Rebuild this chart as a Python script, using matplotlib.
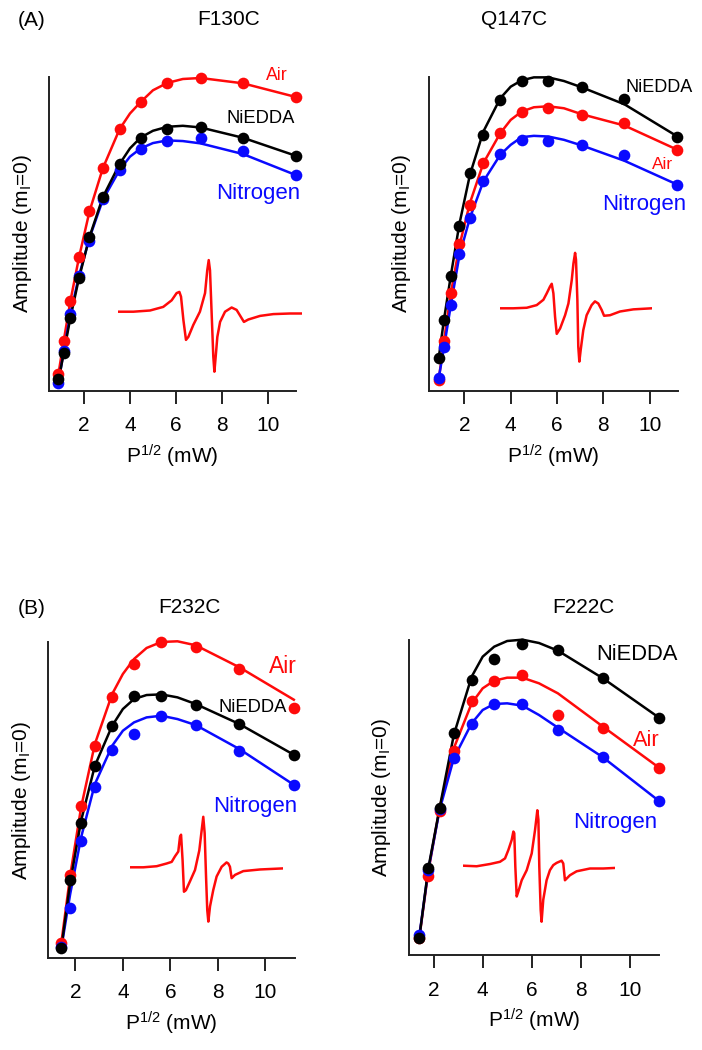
import matplotlib
matplotlib.use("Agg")
import matplotlib.pyplot as plt

plt.rcParams['font.family'] = 'Liberation Sans'
plt.rcParams['mathtext.fontset'] = 'custom'
plt.rcParams['mathtext.rm'] = 'Liberation Sans'
plt.rcParams['mathtext.it'] = 'Liberation Sans:italic'

W, H = 702, 1050
RED = '#ff0a0a'
BLUE = '#0a0aff'
BLACK = '#000000'

# sqrt(P) of the measured powers (4 dB steps)
x_a = [0.89, 1.12, 1.41, 1.78, 2.24, 2.82, 3.55, 4.47, 5.62, 7.07, 8.91, 11.2]
x_b = [1.41, 1.78, 2.24, 2.82, 3.55, 4.47, 5.62, 7.07, 8.91, 11.2]
# positions where the fitted curves were read
fit_x_a = [0.89, 1.12, 1.41, 1.78, 2.24, 2.82, 3.55, 4.0, 4.47, 5.0, 5.62, 6.3, 7.07, 8.91, 11.2]
fit_x_b = [1.41, 1.78, 2.24, 2.82, 3.55, 4.0, 4.47, 5.0, 5.62, 6.3, 7.07, 8.91, 11.2]

# F130C
f130c_air = [5.0, 15.0, 27.0, 40.2, 54.0, 67.0, 78.8, 87.0, 92.7, 94.2, 92.8, 88.5]
f130c_nie = [3.5, 11.3, 22.0, 33.8, 46.3, 58.3, 68.3, 76.2, 78.8, 79.3, 76.2, 70.8]
f130c_n2 = [2.3, 12.0, 23.2, 34.5, 45.0, 57.8, 66.5, 72.8, 75.3, 76.0, 72.3, 65.0]
f130c_air_fit = [5.0, 15.0, 27.0, 40.0, 54.0, 67.0, 78.8, 83.5, 87.0, 90.5, 92.7, 93.9, 94.2, 92.6, 88.5]
f130c_nie_fit = [3.0, 11.3, 22.0, 33.8, 46.3, 58.3, 68.3, 73.0, 76.3, 78.3, 79.5, 79.8, 79.3, 76.2, 70.8]
f130c_n2_fit = [2.3, 12.0, 23.0, 34.5, 46.0, 57.5, 66.5, 70.5, 73.0, 74.6, 75.4, 75.2, 74.5, 71.3, 65.0]

# Q147C
q147c_air = [3.2, 15.0, 29.4, 44.2, 56.0, 68.4, 77.7, 84.0, 85.2, 83.0, 80.7, 72.5]
q147c_nie = [9.7, 21.4, 34.4, 49.7, 65.5, 76.9, 87.5, 93.2, 93.2, 91.5, 87.7, 76.5]
q147c_n2 = [3.7, 13.2, 25.7, 41.0, 52.0, 63.2, 71.2, 75.4, 75.0, 74.0, 71.0, 62.0]
q147c_air_fit = [3.2, 15.0, 29.0, 43.5, 56.5, 68.5, 77.5, 81.5, 84.0, 85.3, 85.6, 85.0, 83.2, 79.8, 72.5]
q147c_nie_fit = [9.7, 21.4, 34.4, 50.0, 65.0, 78.0, 88.0, 91.5, 93.4, 94.3, 94.3, 93.2, 91.3, 86.2, 76.5]
q147c_n2_fit = [3.7, 13.0, 25.5, 40.5, 52.0, 63.0, 71.0, 74.0, 76.3, 76.7, 76.5, 75.5, 73.8, 69.2, 62.0]

# F232C
f232c_air = [4.5, 24.8, 45.5, 63.3, 78.1, 88.1, 94.6, 93.1, 86.6, 74.8]
f232c_nie = [3.0, 23.3, 40.3, 57.3, 69.3, 78.5, 78.5, 75.6, 70.1, 60.8]
f232c_n2 = [3.3, 14.8, 35.1, 51.1, 62.1, 67.1, 72.3, 69.8, 62.0, 51.8]
f232c_air_fit = [4.5, 24.5, 45.0, 64.0, 79.0, 85.0, 89.5, 92.8, 94.6, 94.8, 93.6, 87.0, 77.3]
f232c_nie_fit = [3.0, 22.5, 41.0, 57.5, 69.5, 74.5, 77.5, 78.7, 78.9, 78.0, 76.0, 70.0, 60.8]
f232c_n2_fit = [3.0, 19.0, 36.0, 52.0, 63.5, 68.0, 70.5, 72.0, 72.5, 71.5, 69.7, 62.5, 51.8]

# F222C
f222c_air = [5.0, 23.7, 43.3, 61.2, 76.2, 82.2, 84.0, 72.0, 68.0, 56.2]
f222c_nie = [5.0, 26.0, 44.0, 66.5, 82.5, 88.7, 93.2, 91.5, 83.0, 71.2]
f222c_n2 = [6.0, 25.5, 43.8, 59.0, 69.3, 75.3, 75.3, 67.5, 59.5, 46.2]
f222c_air_fit = [5.0, 25.0, 44.0, 62.0, 75.5, 80.0, 82.3, 83.2, 83.2, 81.5, 78.5, 68.5, 56.2]
f222c_nie_fit = [5.0, 26.0, 44.0, 66.0, 83.5, 89.5, 92.5, 94.2, 94.6, 93.6, 91.3, 83.0, 71.2]
f222c_n2_fit = [5.5, 25.5, 43.5, 59.0, 69.5, 73.5, 75.3, 75.5, 74.8, 72.0, 68.2, 59.3, 46.2]

# inset EPR spectra (field in % of sweep, signal normalised)
spec_f130c_field = [0, 8.2, 17.3, 24.5, 29.1, 31.8, 33.3, 34.2, 35.5, 36.9, 38.2, 40.9, 44.5, 47.3, 48.5, 49.3,
                    50, 50.9, 51.8, 52.4, 53.1, 54, 55.5, 58.2, 61.8, 64.5, 67.3, 68.5, 70.9, 77.3, 84.5, 93.6, 100]
spec_f130c_signal = [0, 0, 0.02, 0.08, 0.19, 0.31, 0.33, 0.25, -0.14, -0.47, -0.42, -0.22, 0, 0.31, 0.69, 0.86,
                     0.69, -0.03, -0.75, -1.0, -0.75, -0.42, -0.17, 0, 0.07, 0.03, -0.11, -0.17, -0.13, -0.07,
                     -0.04, -0.03, -0.03]
spec_q147c_field = [0, 8.8, 17.6, 24.2, 28.6, 30.8, 33.0, 34.1, 35.2, 36.3, 37.4, 39.6, 42.9, 45.1, 47.3, 48.4,
                    49.5, 50.1, 51.0, 51.6, 52.3, 53.2, 54.9, 57.1, 60.4, 62.6, 64.8, 67.0, 68.6, 72.5, 79.1,
                    87.9, 100]
spec_q147c_signal = [0, 0, 0.01, 0.06, 0.16, 0.28, 0.41, 0.46, 0.28, -0.16, -0.48, -0.38, -0.13, 0.09, 0.53,
                     0.84, 1.04, 0.91, 0.16, -0.72, -1.0, -0.78, -0.41, -0.13, 0.06, 0.13, 0.09, -0.03, -0.14,
                     -0.13, -0.06, -0.02, 0]
spec_f232c_field = [0, 8.7, 17.4, 23.9, 27.2, 29.3, 31.5, 32.6, 33.3, 34.3, 35.2, 36.5, 39.1, 42.4, 45.2, 46.7,
                    47.8, 48.7, 49.6, 50.4, 51.1, 52.2, 54.3, 56.5, 59.8, 63.0, 64.1, 65.2, 66.3, 68.5, 73.9,
                    84.8, 100]
spec_f232c_signal = [0, 0, 0.02, 0.07, 0.10, 0.20, 0.29, 0.56, 0.60, 0.13, -0.45, -0.42, -0.26, -0.05, 0.31,
                     0.67, 0.93, 0.63, -0.17, -0.79, -1.0, -0.72, -0.42, -0.17, 0.01, 0.09, 0.07, 0.01, -0.20,
                     -0.14, -0.07, -0.04, -0.02]
spec_f222c_field = [0, 8.8, 17.6, 24.2, 27.5, 29.7, 31.9, 33.0, 33.6, 34.3, 35.2, 36.3, 38.5, 41.8, 45.1, 47.3,
                    48.8, 49.5, 50.1, 51.0, 51.6, 52.7, 54.9, 57.1, 59.3, 61.5, 64.8, 65.9, 67.0, 68.1, 70.3,
                    74.7, 83.5, 92.3, 100]
spec_f222c_signal = [0, -0.01, 0.03, 0.07, 0.13, 0.28, 0.46, 0.61, 0.58, -0.02, -0.55, -0.46, -0.26, -0.08,
                     0.22, 0.64, 0.99, 0.82, -0.02, -0.79, -1.0, -0.61, -0.26, -0.08, 0.01, 0.05, 0.09, 0.04,
                     -0.26, -0.23, -0.17, -0.10, -0.05, -0.05, -0.04]

fig = plt.figure(figsize=(W / 100, H / 100), dpi=100)


def px_rect(left, top, right, bottom):
    return [left / W, 1 - bottom / H, (right - left) / W, (bottom - top) / H]


def ftext(x, y, s, **kw):
    fig.text(x / W, 1 - y / H, s, ha='center', va='baseline', **kw)


def panel(rect, xlim, x, fit_x, series):
    ax = fig.add_axes(px_rect(*rect))
    for pts, fit, col in series:
        ax.plot(fit_x, fit, color=col, lw=1.8, clip_on=False, zorder=2)
        ax.plot(x, pts, 'o', color=col, ms=8.4, mec='none', clip_on=False, zorder=3)
    ax.set_xlim(*xlim)
    ax.set_ylim(0, 94.5)
    ax.set_xticks([2, 4, 6, 8, 10])
    ax.set_yticks([])
    for s in ['top', 'right']:
        ax.spines[s].set_visible(False)
    for s in ['left', 'bottom']:
        ax.spines[s].set_linewidth(1.4)
        ax.spines[s].set_color('#222222')
    ax.tick_params(axis='x', length=9, width=1.4, color='#222222', pad=9.5, labelsize=15)
    ax.set_xlabel(r'P$^{\mathrm{1/2}}$ (mW)', fontsize=15, labelpad=5)
    ax.set_ylabel(r'Amplitude (m$_{\mathrm{I}}$=0)', fontsize=15, labelpad=11)
    return ax


def spectrum(field, signal, x0, x1, base, scale):
    top, bot = base - 80, base + 80
    ax = fig.add_axes(px_rect(x0, top, x1, bot))
    ax.plot(field, signal, color=RED, lw=1.8)
    ax.set_xlim(0, 100)
    ax.set_ylim(-(bot - base) / scale, (base - top) / scale)
    ax.axis('off')


panel((49, 77, 296, 390.7), (0.48, 11.22), x_a, fit_x_a,
      [(f130c_air, f130c_air_fit, RED), (f130c_n2, f130c_n2_fit, BLUE), (f130c_nie, f130c_nie_fit, BLACK)])
panel((428.7, 76.7, 677.7, 390.7), (0.46, 11.21), x_a, fit_x_a,
      [(q147c_air, q147c_air_fit, RED), (q147c_n2, q147c_n2_fit, BLUE), (q147c_nie, q147c_nie_fit, BLACK)])
panel((48.3, 642.3, 295, 957.7), (0.86, 11.25), x_b, fit_x_b,
      [(f232c_air, f232c_air_fit, RED), (f232c_n2, f232c_n2_fit, BLUE), (f232c_nie, f232c_nie_fit, BLACK)])
panel((408.7, 640, 659.3, 955), (0.98, 11.21), x_b, fit_x_b,
      [(f222c_air, f222c_air_fit, RED), (f222c_n2, f222c_n2_fit, BLUE), (f222c_nie, f222c_nie_fit, BLACK)])

spectrum(spec_f130c_field, spec_f130c_signal, 118.3, 301.7, 311.7, 60)
spectrum(spec_q147c_field, spec_q147c_signal, 500, 651.7, 308.3, 53.3)
spectrum(spec_f232c_field, spec_f232c_signal, 130, 283.3, 867.3, 54.3)
spectrum(spec_f222c_field, spec_f222c_signal, 463.3, 615, 865.7, 56)

# panel letters and titles
ftext(32, 26, '(A)', fontsize=15)
ftext(228.5, 25, 'F130C', fontsize=15)
ftext(514, 25, 'Q147C', fontsize=15)
ftext(32, 614, '(B)', fontsize=15)
ftext(189.5, 613, 'F232C', fontsize=15)
ftext(583, 613, 'F222C', fontsize=15)

# series labels
ftext(276.5, 80, 'Air', fontsize=12.8, color=RED)
ftext(261, 123.3, 'NiEDDA', fontsize=13.2, color=BLACK)
ftext(258, 199.3, 'Nitrogen', fontsize=16, color=BLUE)

ftext(659, 91.7, 'NiEDDA', fontsize=13, color=BLACK)
ftext(663, 169.3, 'Air', fontsize=12.4, color=RED)
ftext(644, 210, 'Nitrogen', fontsize=16, color=BLUE)

ftext(282.7, 673.3, 'Air', fontsize=16.5, color=RED)
ftext(252.5, 711.7, 'NiEDDA', fontsize=13.2, color=BLACK)
ftext(255.5, 812.3, 'Nitrogen', fontsize=16, color=BLUE)

ftext(636.8, 660, 'NiEDDA', fontsize=15.8, color=BLACK)
ftext(646, 746, 'Air', fontsize=15.7, color=RED)
ftext(614.8, 827.7, 'Nitrogen', fontsize=16, color=BLUE)

fig.savefig('out.png', dpi=100)
